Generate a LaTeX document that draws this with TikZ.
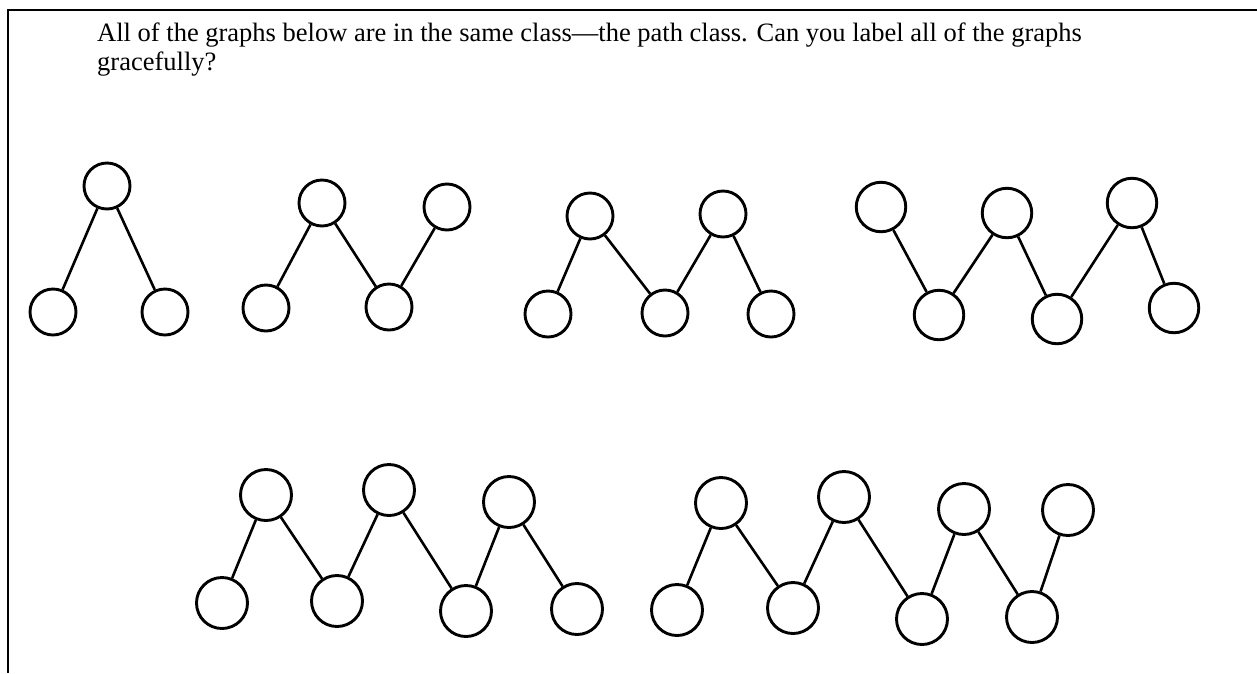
\documentclass[tikz,border=0pt]{standalone}
\usepackage{fontspec}
\setmainfont{Liberation Serif}

\tikzset{
  vtx/.style={circle, draw, line width=2.9pt, minimum size=46pt, inner sep=0pt},
  link/.style={line width=2.6pt}
}

\begin{document}
\begin{tikzpicture}[x=1pt, y=-1pt]
    \useasboundingbox (0,0) rectangle (1257,673);

    % Frame
    \draw[line width=2pt] (1257,10) -- (8,10) -- (8,673);

    % Question
    \node[anchor=base west, align=left, inner sep=0pt,
          font=\fontsize{26.5}{25}\selectfont] (question) at (97,70)
        {All of the graphs below are in the same class—the path class. Can you label all of the graphs\\[4pt]gracefully?};

    % Graph 1
    \foreach \px/\py [count=\i] in {53/312, 107/186, 165/312}
        \node[vtx] (ga\i) at (\px,\py) {};
    \foreach \i/\j in {1/2, 2/3}
        \draw[link] (ga\i) -- (ga\j);

    % Graph 2
    \foreach \px/\py [count=\i] in {266/308, 322/203, 389/307, 447/207}
        \node[vtx] (gb\i) at (\px,\py) {};
    \foreach \i/\j in {1/2, 2/3, 3/4}
        \draw[link] (gb\i) -- (gb\j);

    % Graph 3
    \foreach \px/\py [count=\i] in {548/314, 590/216, 665/313, 723/214, 771/314}
        \node[vtx] (gc\i) at (\px,\py) {};
    \foreach \i/\j in {1/2, 2/3, 3/4, 4/5}
        \draw[link] (gc\i) -- (gc\j);

    % Graph 4
    \foreach \px/\py [count=\i] in {881/207, 939/315, 1007/213, 1057/319, 1132/203, 1174/308}
        \node[vtx, minimum size=49.5pt] (gd\i) at (\px,\py) {};
    \foreach \i/\j in {1/2, 2/3, 3/4, 4/5, 5/6}
        \draw[link] (gd\i) -- (gd\j);

    % Graph 5
    \foreach \px/\py [count=\i] in {222/603, 266/495, 337/601, 389/490, 466/611, 509/502, 577/609}
        \node[vtx, minimum size=51pt] (ge\i) at (\px,\py) {};
    \foreach \i/\j in {1/2, 2/3, 3/4, 4/5, 5/6, 6/7}
        \draw[link] (ge\i) -- (ge\j);

    % Graph 6
    \foreach \px/\py [count=\i] in {677/610, 721/503, 793/608, 844/497, 922/619, 964/509, 1032/617, 1068/510}
        \node[vtx, minimum size=51pt] (gf\i) at (\px,\py) {};
    \foreach \i/\j in {1/2, 2/3, 3/4, 4/5, 5/6, 6/7, 7/8}
        \draw[link] (gf\i) -- (gf\j);
\end{tikzpicture}
\end{document}
